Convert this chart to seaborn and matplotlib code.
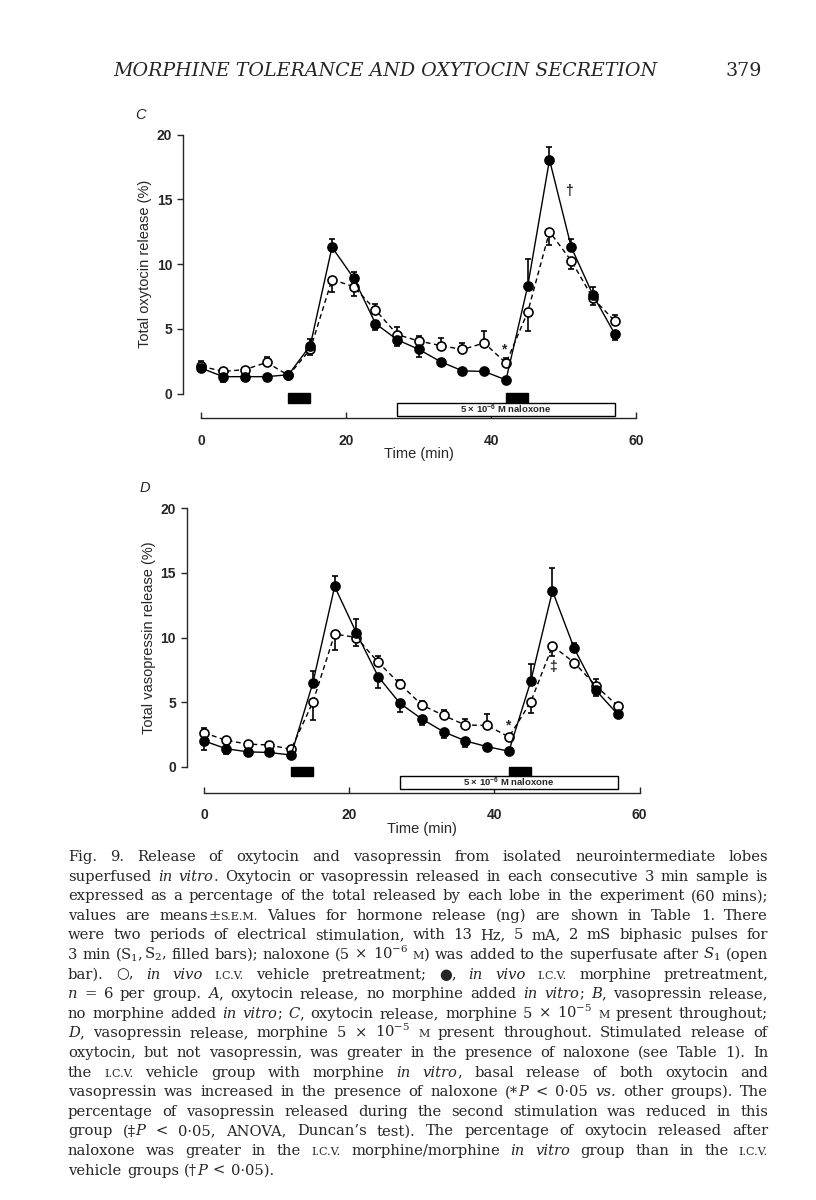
import numpy as np
import pandas as pd
import seaborn as sns
import matplotlib.pyplot as plt
from matplotlib.patches import Rectangle
from matplotlib.transforms import blended_transform_factory

# sample times (min), one 3 min sample each
time_min = [0, 3, 6, 9, 12, 15, 18, 21, 24, 27, 30, 33, 36, 39, 42, 45, 48, 51, 54, 57]

# C: oxytocin release (%), filled = i.c.v. morphine, open = i.c.v. vehicle
oxy_morphine = [1.95, 1.3, 1.3, 1.3, 1.45, 3.7, 11.3, 8.9, 5.4, 4.15, 3.4, 2.45, 1.75, 1.7, 1.05, 8.3, 18.05, 11.3, 7.6, 4.6]
oxy_vehicle = [2.1, 1.7, 1.85, 2.4, 1.4, 3.4, 8.8, 8.25, 6.45, 4.55, 4.05, 3.7, 3.4, 3.9, 2.35, 6.3, 12.5, 10.25, 7.35, 5.6]
# s.e.m., drawn one side only: + above the point, - below
oxy_morphine_err = [-0.15, -0.4, -0.1, -0.35, -0.1, 0.5, 0.65, 0.45, -0.5, -0.45, -0.6, -0.15, -0.1, -0.1, -0.1, 2.1, 1.0, 0.6, 0.65, -0.5]
oxy_vehicle_err = [0.4, 0.1, 0.15, 0.4, 0.1, -0.45, -1.0, -0.75, 0.45, 0.55, 0.4, 0.55, 0.5, 0.9, 0.4, -1.45, -1.05, -0.6, -0.5, 0.5]

# D: vasopressin release (%)
avp_morphine = [2.0, 1.4, 1.15, 1.1, 0.9, 6.5, 13.95, 10.35, 6.97, 4.9, 3.7, 2.7, 2.0, 1.55, 1.2, 6.6, 13.6, 9.15, 5.9, 4.05]
avp_vehicle = [2.63, 2.05, 1.75, 1.68, 1.35, 5.0, 10.27, 10.0, 8.08, 6.4, 4.78, 3.97, 3.22, 3.2, 2.3, 5.0, 9.35, 8.05, 6.25, 4.7]
avp_morphine_err = [-0.7, -0.4, -0.35, -0.1, -0.1, 0.9, 0.8, 1.1, -0.9, -0.65, -0.5, -0.45, -0.45, -0.1, -0.1, 1.35, 1.8, 0.45, -0.45, -0.1]
avp_vehicle_err = [0.4, 0.2, 0.2, 0.25, 0.25, -1.4, -1.25, -0.65, 0.5, 0.3, 0.3, 0.4, 0.5, 0.9, 0.2, -0.85, -0.75, 0.15, 0.5, 0.1]

# stimulation periods (filled bars) and naloxone period (open bar), min
stim_periods = [(12, 15), (42, 45)]
naloxone_period = (27, 57)

y_ticks = [0, 5, 10, 15, 20]
x_ticks = [0, 20, 40, 60]

W, H = 816, 1200
sns.set_style('ticks')
plt.rcParams['font.family'] = ['Liberation Sans', 'DejaVu Sans']
plt.rcParams['mathtext.fontset'] = 'custom'
plt.rcParams['mathtext.rm'] = 'DejaVu Serif'
plt.rcParams['mathtext.it'] = 'DejaVu Serif:italic'
plt.rcParams['mathtext.default'] = 'regular'

fig = plt.figure(figsize=(W / 100, H / 100), dpi=100)


def make_axes(spine_x, zero_x, px_min, zero_y, px_unit, xlim, ylim):
    # place an axes so that data units land on given page pixels
    right = zero_x + xlim[1] * px_min
    bottom = zero_y - ylim[0] * px_unit
    top = zero_y - ylim[1] * px_unit
    ax = fig.add_axes([spine_x / W, 1 - bottom / H, (right - spine_x) / W, (bottom - top) / H])
    ax.set_xlim(xlim)
    ax.set_ylim(ylim)
    return ax


def draw_panel(ax, morphine, morphine_err, vehicle, vehicle_err, ylabel, letter, marks):
    t = np.array(time_min)
    for y, e, face, ls, z in [(vehicle, vehicle_err, 'white', (0, (3.5, 2.5)), 3),
                              (morphine, morphine_err, 'black', '-', 4)]:
        e = np.array(e)
        lo = np.where(e < 0, -e, 0)
        hi = np.where(e > 0, e, 0)
        ax.errorbar(t, y, yerr=[lo, hi], fmt='none', ecolor='black',
                    elinewidth=1.2, capsize=2.3, capthick=1.2, zorder=z - 1)
        sns.lineplot(x=t, y=y, ax=ax, color='black', linewidth=1.0, linestyle=ls,
                     marker='o', markersize=6.5, markerfacecolor=face,
                     markeredgecolor='black', markeredgewidth=1.2, zorder=z)

    for a, b in stim_periods:
        ax.add_patch(Rectangle((a, -0.72), b - a, 0.72, facecolor='black',
                               edgecolor='black', clip_on=False))
    a, b = naloxone_period
    ax.add_patch(Rectangle((a, -1.75), b - a, 1.03, facecolor='white',
                           edgecolor='black', linewidth=1.0, clip_on=False))
    ax.text((a + b) / 2, -1.24, '5 × 10$^{-6}$ M naloxone', ha='center', va='center',
            fontsize=6.8, fontweight='bold')

    for x, y, s in marks:
        ax.text(x, y, s, ha='center', va='center', fontsize=10, fontweight='bold')

    sns.despine(ax=ax)
    ax.spines['left'].set_bounds(0, 20)
    ax.spines['bottom'].set_bounds(0, 60)
    for sp in ['left', 'bottom']:
        ax.spines[sp].set_linewidth(1.0)
    ax.set_yticks(y_ticks)
    ax.set_xticks(x_ticks)
    ax.tick_params(axis='y', direction='out', length=4, width=1.0, pad=4, labelsize=10)
    ax.tick_params(axis='x', direction='in', length=4, width=1.0, pad=11, labelsize=10)
    for lab in ax.get_xticklabels() + ax.get_yticklabels():
        lab.set_fontweight('bold')

    ax.set_xlabel('Time (min)', fontsize=10.5, va='center')
    ax.set_ylabel(ylabel, fontsize=10.5, va='center')
    ax.xaxis.set_label_coords(30, -0.125, transform=blended_transform_factory(ax.transData, ax.transAxes))
    ax.yaxis.set_label_coords(-0.083, 10, transform=blended_transform_factory(ax.transAxes, ax.transData))
    ax.text(-0.092, 1.06, letter, transform=ax.transAxes, fontsize=10.5, fontstyle='italic',
            ha='center', va='center')


ax_c = make_axes(183.3, 201.5, 7.25, 393.5, 12.95, (-2.51, 61), (-1.92, 20.2))
draw_panel(ax_c, oxy_morphine, oxy_morphine_err, oxy_vehicle, oxy_vehicle_err,
           'Total oxytocin release (%)', 'C', [(41.7, 3.4, '*'), (50.7, 15.6, '†')])

ax_d = make_axes(187.0, 204.0, 7.26, 766.7, 12.92, (-2.34, 61), (-2.01, 20.2))
draw_panel(ax_d, avp_morphine, avp_morphine_err, avp_vehicle, avp_vehicle_err,
           'Total vasopressin release (%)', 'D', [(41.8, 3.2, '*'), (48.1, 7.7, '‡')])

renderer = fig.canvas.get_renderer()

# running head
head = fig.text(113 / W, 1 - 71 / H, 'MORPHINE TOLERANCE AND OXYTOCIN SECRETION',
                family='DejaVu Serif', fontstyle='italic', fontsize=13, va='center')
wid = head.get_window_extent(renderer).width
head.set_fontsize(13 * 544 / wid)
fig.text(762 / W, 1 - 71 / H, '379', family='DejaVu Serif', fontsize=head.get_fontsize(),
         va='center', ha='right')

# caption, set as justified lines
caption_lines = [
    "Fig. 9. Release of oxytocin and vasopressin from isolated neurointermediate lobes",
    "superfused _in _vitro|. Oxytocin or vasopressin released in each consecutive 3 min sample is",
    "expressed as a percentage of the total released by each lobe in the experiment (60 mins);",
    "values are means|±|^S.E.M. Values for hormone release (ng) are shown in Table 1. There",
    "were two periods of electrical stimulation, with 13 Hz, 5 mA, 2 mS biphasic pulses for",
    "3 min (S$_1$,|S$_2$, filled bars); naloxone (5 × 10$^{-6}$ ^M|) was added to the superfusate after $\\mathit{S}_1$ (open",
    "bar). ○, _in _vivo ^I.C.V. vehicle pretreatment; ●, _in _vivo ^I.C.V. morphine pretreatment,",
    "_n = 6 per group. _A|, oxytocin release, no morphine added _in _vitro|; _B|, vasopressin release,",
    "no morphine added _in _vitro|; _C|, oxytocin release, morphine 5 × 10$^{-5}$ ^M present throughout;",
    "_D|, vasopressin release, morphine 5 × 10$^{-5}$ ^M present throughout. Stimulated release of",
    "oxytocin, but not vasopressin, was greater in the presence of naloxone (see Table 1). In",
    "the ^I.C.V. vehicle group with morphine _in _vitro|, basal release of both oxytocin and",
    "vasopressin was increased in the presence of naloxone (*|_P < 0·05 _vs. other groups). The",
    "percentage of vasopressin released during the second stimulation was reduced in this",
    "group (‡|_P < 0·05, ANOVA, Duncan’s test). The percentage of oxytocin released after",
    "naloxone was greater in the ^I.C.V. morphine/morphine _in _vitro group than in the ^I.C.V.",
    "vehicle groups (†|_P < 0·05).",
]
cap_left, cap_right, cap_top, cap_step, cap_size = 68, 768, 861, 19.6, 10.6
min_gap = 4.0


def measure(parts):
    return [t.get_window_extent(renderer).width for t in parts]


for i, line in enumerate(caption_lines):
    y = 1 - (cap_top + i * cap_step) / H
    words = []
    for word in line.split(' '):
        parts = []
        for seg in word.split('|'):
            style, size = 'normal', cap_size
            if seg.startswith('_'):
                seg, style = seg[1:], 'italic'
            elif seg.startswith('^'):
                seg, size = seg[1:], cap_size * 0.76
            parts.append(fig.text(0, y, seg, family=['DejaVu Serif', 'DejaVu Sans'],
                                  fontstyle=style, fontsize=size, va='baseline'))
        words.append(parts)
    avail = cap_right - cap_left - (len(words) - 1) * min_gap
    total = sum(sum(measure(p)) for p in words)
    if total > avail:
        # condense an over-full line
        for p in words:
            for t in p:
                t.set_fontsize(t.get_fontsize() * avail / total)
    widths = [measure(p) for p in words]
    sums = [sum(w) for w in widths]
    if i == len(caption_lines) - 1:
        gap = 5.5
    else:
        gap = (cap_right - cap_left - sum(sums)) / (len(words) - 1)
    x = cap_left
    for parts, ws, wsum in zip(words, widths, sums):
        xx = x
        for t, w in zip(parts, ws):
            t.set_x(xx / W)
            xx += w
        x += wsum + gap

fig.savefig('out.png', dpi=100)
